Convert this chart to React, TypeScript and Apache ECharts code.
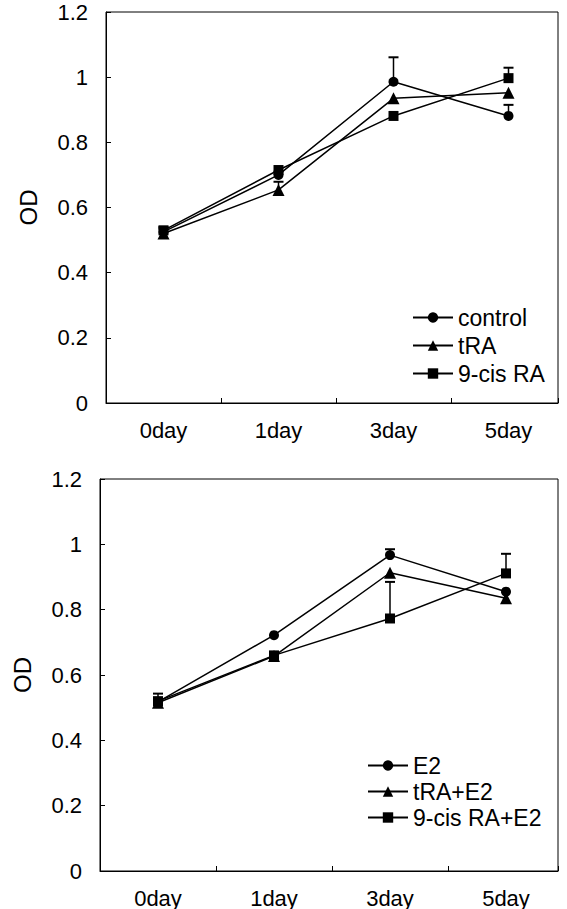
import React, { useEffect, useRef } from "react";
import * as echarts from "echarts";

const days = ["0day", "1day", "3day", "5day"];

// Upper panel
const topNames = ["control", "tRA", "9-cis RA"];
const controlOD = [0.525, 0.7, 0.986, 0.881];
const tRAOD = [0.52, 0.654, 0.935, 0.952];
const cisRAOD = [0.53, 0.715, 0.881, 0.997];
const controlErr = [0.01, 0.01, 0.075, 0.034];
const tRAErr = [0, 0.025, 0, 0];
const cisRAErr = [0.01, 0, 0, 0.032];

// Lower panel
const bottomNames = ["E2", "tRA+E2", "9-cis RA+E2"];
const e2OD = [0.518, 0.722, 0.967, 0.855];
const tRAE2OD = [0.515, 0.658, 0.913, 0.835];
const cisRAE2OD = [0.52, 0.66, 0.773, 0.911];
const e2Err = [0.025, 0, 0.018, 0];
const tRAE2Err = [0, 0, 0, 0];
const cisRAE2Err = [0, 0, 0.112, 0.06];

const symbols = ["circle", "triangle", "rect"];
const FONT = "Liberation Sans";

const errRender = (params: any, api: any) => {
  const x = api.value(0);
  const v = api.value(1);
  const e = api.value(2);
  if (!e) return { type: "group", children: [] };
  const p0 = api.coord([x, v]);
  const p1 = api.coord([x, v + e]);
  const cap = 5;
  return {
    type: "group",
    children: [
      { type: "line", shape: { x1: p0[0], y1: p0[1], x2: p1[0], y2: p1[1] }, style: { stroke: "#000", lineWidth: 1.5 } },
      { type: "line", shape: { x1: p1[0] - cap, y1: p1[1], x2: p1[0] + cap, y2: p1[1] }, style: { stroke: "#000", lineWidth: 2 } },
    ],
  };
};

export default function App() {
  const ref = useRef<HTMLDivElement>(null);
  useEffect(() => {
    if (!ref.current) return;
    const chart = echarts.init(ref.current, undefined, { renderer: "svg" });

    const panels = [
      { names: topNames, vals: [controlOD, tRAOD, cisRAOD], errs: [controlErr, tRAErr, cisRAErr], left: 106, top: 12, h: 391, band: 115, dataRight: 1 },
      { names: bottomNames, vals: [e2OD, tRAE2OD, cisRAE2OD], errs: [e2Err, tRAE2Err, cisRAE2Err], left: 100, top: 479, h: 392, band: 116, dataRight: 3 },
    ];
    const frameRight = 567 - 558;

    const grid: any[] = [];
    const xAxis: any[] = [];
    const yAxis: any[] = [];
    const series: any[] = [];

    panels.forEach((p, k) => {
      const gData = k * 2;
      const gFrame = k * 2 + 1;
      grid.push({ left: p.left, right: p.dataRight, top: p.top, height: p.h });
      grid.push({ left: p.left, right: frameRight, top: p.top, height: p.h, show: true, borderColor: "#000", borderWidth: 1, backgroundColor: "transparent" });
      const frameW = 558 - p.left;
      xAxis.push({
        gridIndex: gData, type: "category", data: days, boundaryGap: true,
        axisLine: { show: false }, axisTick: { show: false }, splitLine: { show: false },
        axisLabel: { fontSize: 22, color: "#000", fontFamily: FONT, margin: 16 },
      });
      xAxis.push({
        gridIndex: gFrame, type: "value", min: 0, max: frameW / p.band, interval: 1,
        axisLine: { show: true, lineStyle: { color: "#000", width: 1 } },
        axisTick: { show: true, inside: true, length: 5, lineStyle: { color: "#000" } },
        axisLabel: { show: false }, splitLine: { show: false },
      });
      yAxis.push({ gridIndex: gData, type: "value", min: 0, max: 1.2, interval: 0.2, show: false });
      yAxis.push({
        gridIndex: gFrame, type: "value", min: 0, max: 1.2, interval: 0.2,
        axisLine: { show: true, lineStyle: { color: "#000", width: 1 } },
        axisTick: { show: true, inside: true, length: 5, lineStyle: { color: "#000" } },
        splitLine: { show: false },
        axisLabel: { fontSize: 22, color: "#000", fontFamily: FONT, margin: 18 },
        name: "OD", nameLocation: "middle", nameRotate: 90, nameGap: 66,
        nameTextStyle: { fontSize: 24, color: "#000", fontFamily: FONT },
      });
      p.names.forEach((name, i) => {
        series.push({
          name, type: "line", xAxisIndex: gData, yAxisIndex: gData,
          data: p.vals[i], symbol: symbols[i], symbolSize: i === 1 ? 12 : 10,
          lineStyle: { color: "#000", width: 1.5 }, itemStyle: { color: "#000" },
          z: 3, silent: true,
        });
        series.push({
          type: "custom", xAxisIndex: gData, yAxisIndex: gData,
          data: days.map((d, j) => [j, p.vals[i][j], p.errs[i][j]]),
          renderItem: errRender, z: 2, silent: true,
        });
      });
    });

    const legendBase = {
      orient: "vertical", itemWidth: 40, itemHeight: 13, padding: 0,
      textStyle: { fontSize: 23, color: "#000", fontFamily: FONT },
      inactiveColor: "#000", selectedMode: false,
    };

    chart.setOption({
      animation: false,
      backgroundColor: "#fff",
      grid, xAxis, yAxis, series,
      legend: [
        { ...legendBase, data: topNames, left: 412, top: 306, itemGap: 5 },
        { ...legendBase, data: bottomNames, left: 367, top: 754, itemGap: 3 },
      ],
    });
    return () => chart.dispose();
  }, []);
  return <div ref={ref} style={{ position: "absolute", left: 0, top: 0, width: 567, height: 909, background: "#fff" }} />;
}
